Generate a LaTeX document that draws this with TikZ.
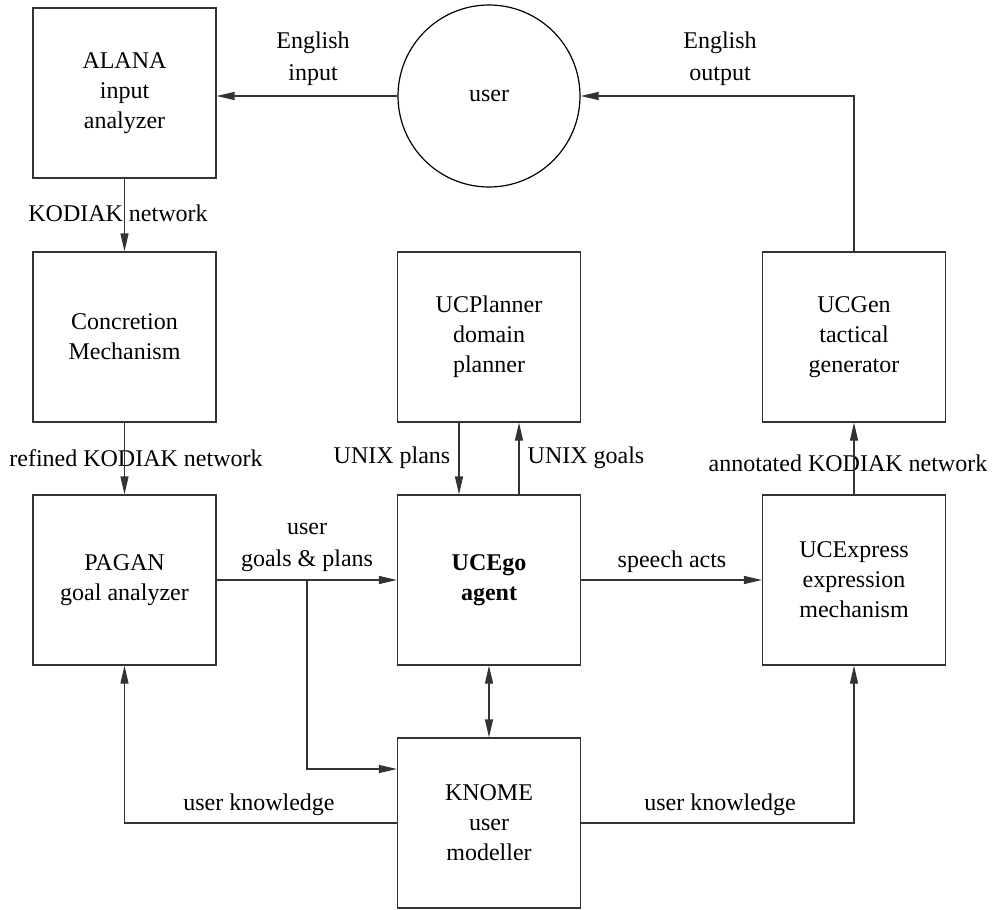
\documentclass[tikz,border=0pt]{standalone}
\usepackage{fontspec}
\setmainfont{Liberation Serif}
\usetikzlibrary{arrows.meta}
\begin{document}
\begin{tikzpicture}[x=0.5pt,y=-0.5pt,
  box/.style={draw=black!80, line width=0.6pt, minimum width=91.5pt, minimum height=85pt, inner sep=0pt, align=center, font=\fontsize{12}{15}\selectfont},
  lab/.style={inner sep=0pt, align=center, font=\fontsize{12}{16}\selectfont},
  arr/.style={draw=black!80, line width=0.6pt, -{Triangle[length=9pt,width=4pt]}},
  darr/.style={draw=black!80, line width=0.6pt, {Triangle[length=9pt,width=4pt]}-{Triangle[length=9pt,width=4pt]}}]
\useasboundingbox (0,0) rectangle (994,909);
% nodes
\node[box] (alana) at (124.5,93) {ALANA\\input\\analyzer};
\node[draw=black, line width=0.6pt, circle, minimum size=91pt, inner sep=0pt, font=\fontsize{12}{15}\selectfont] (user) at (489,96) {user};
\node[box] (conc) at (124.5,337) {Concretion\\Mechanism};
\node[box] (plan) at (489,337) {UCPlanner\\domain\\planner};
\node[box] (gen) at (854,337) {UCGen\\tactical\\generator};
\node[box] (pagan) at (124.5,580) {PAGAN\\goal analyzer};
\node[box] (ego) at (489,580) {\textbf{UCEgo}\\\textbf{agent}};
\node[box] (expr) at (854,580) {UCExpress\\expression\\mechanism};
\node[box] (knome) at (489,823) {KNOME\\user\\modeller};
% labels
\node[lab] (l1) at (313,59) {English\\input};
\node[lab] (l2) at (720,59) {English\\output};
\node[lab] (l3) at (118,213) {KODIAK network};
\node[lab] (l4) at (136,458) {refined KODIAK network};
\node[lab] (l5) at (392,458) {UNIX plans};
\node[lab] (l6) at (586,458) {UNIX goals};
\node[lab] (l7) at (848,463) {annotated KODIAK network};
\node[lab] (l8) at (307,547) {user\\goals \& plans};
\node[lab] (l9) at (672,562) {speech acts};
\node[lab] (l10) at (259,805) {user knowledge};
\node[lab] (l11) at (720,805) {user knowledge};
% connectors
\draw[arr] (user.west) -- (user.west -| alana.east);
\draw[arr] (gen.north) |- (user.east);
\draw[arr] (alana) -- (conc);
\draw[arr] (conc) -- (pagan);
\draw[arr] ([xshift=-15pt]plan.south) -- ([xshift=-15pt]ego.north);
\draw[arr] ([xshift=15pt]ego.north) -- ([xshift=15pt]plan.south);
\draw[arr] (expr) -- (gen);
\draw[arr] (pagan) -- (ego);
\coordinate (br) at (307,580);
\draw[arr] (br) |- ([yshift=27pt]knome.west);
\draw[arr] (ego) -- (expr);
\draw[darr] (ego) -- (knome);
\draw[arr] (knome.west) -| (pagan.south);
\draw[arr] (knome.east) -| (expr.south);
\end{tikzpicture}
\end{document}
